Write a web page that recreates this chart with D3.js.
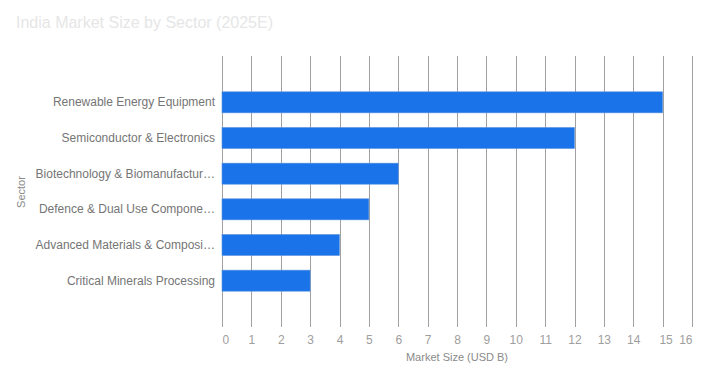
<!DOCTYPE html>
<html><head><meta charset="utf-8">
<script src="https://cdn.jsdelivr.net/npm/d3@7"></script>
<style>body{margin:0;background:#fff;}svg{display:block;font-family:Arial,"Liberation Sans",sans-serif;}</style>
</head><body><svg id="c" width="708" height="380"></svg>
<script>
const categories = ["Renewable Energy Equipment","Semiconductor & Electronics","Biotechnology & Biomanufacturing","Defence & Dual Use Components","Advanced Materials & Composites","Critical Minerals Processing"];
const displayLabels = ["Renewable Energy Equipment","Semiconductor & Electronics","Biotechnology & Biomanufactur…","Defence & Dual Use Compone…","Advanced Materials & Composi…","Critical Minerals Processing"];
const values = [15, 12, 6, 5, 4, 3];
const xTicks = [0,1,2,3,4,5,6,7,8,9,10,11,12,13,14,15,16];

const svg = d3.select("#c");
const x = d3.scaleLinear().domain([0,16]).range([222,692]);
const y = d3.scaleBand().domain(categories).range([84.5,298.5]).paddingInner(0.41).paddingOuter(0.205);
const gridTop = 56, gridBottom = 327;
const last = xTicks.length - 1;

svg.append("text").attr("x",16).attr("y",28).attr("font-size",16).attr("fill","#e6e6e6").text("India Market Size by Sector (2025E)");

svg.append("g").selectAll("line").data(xTicks).join("line")
  .attr("x1",d=>Math.round(x(d))+0.5).attr("x2",d=>Math.round(x(d))+0.5)
  .attr("y1",gridTop).attr("y2",gridBottom)
  .attr("stroke","#a0a0a0").attr("stroke-width",1);

svg.append("g").selectAll("rect").data(values).join("rect")
  .attr("x",x(0)).attr("y",(d,i)=>y(categories[i]))
  .attr("width",d=>x(d)-x(0)).attr("height",y.bandwidth())
  .attr("fill","#1a73e8").attr("stroke","#5f95e0").attr("stroke-width",0.6);

svg.append("g").selectAll("text").data(displayLabels).join("text")
  .attr("x",215).attr("y",(d,i)=>y(categories[i])+y.bandwidth()/2+4)
  .attr("text-anchor","end").attr("font-size",12).attr("fill","#757575").text(d=>d);

svg.append("g").selectAll("text").data(xTicks).join("text")
  .attr("x",(d,i)=> i===0 ? x(d)+0.5 : i===last ? x(d)+0.5 : i===last-1 ? x(d)+3.5 : x(d)+0.5)
  .attr("y",344)
  .attr("text-anchor",(d,i)=> i===0 ? "start" : i===last ? "end" : "middle")
  .attr("font-size",12).attr("fill","#9e9e9e").text(d=>d);

svg.append("text").attr("x",457).attr("y",361).attr("text-anchor","middle")
  .attr("font-size",11).attr("fill","#8a8a8a").text("Market Size (USD B)");

svg.append("text").attr("transform","translate(25,192) rotate(-90)").attr("text-anchor","middle")
  .attr("font-size",11).attr("fill","#8a8a8a").text("Sector");
</script></body></html>
